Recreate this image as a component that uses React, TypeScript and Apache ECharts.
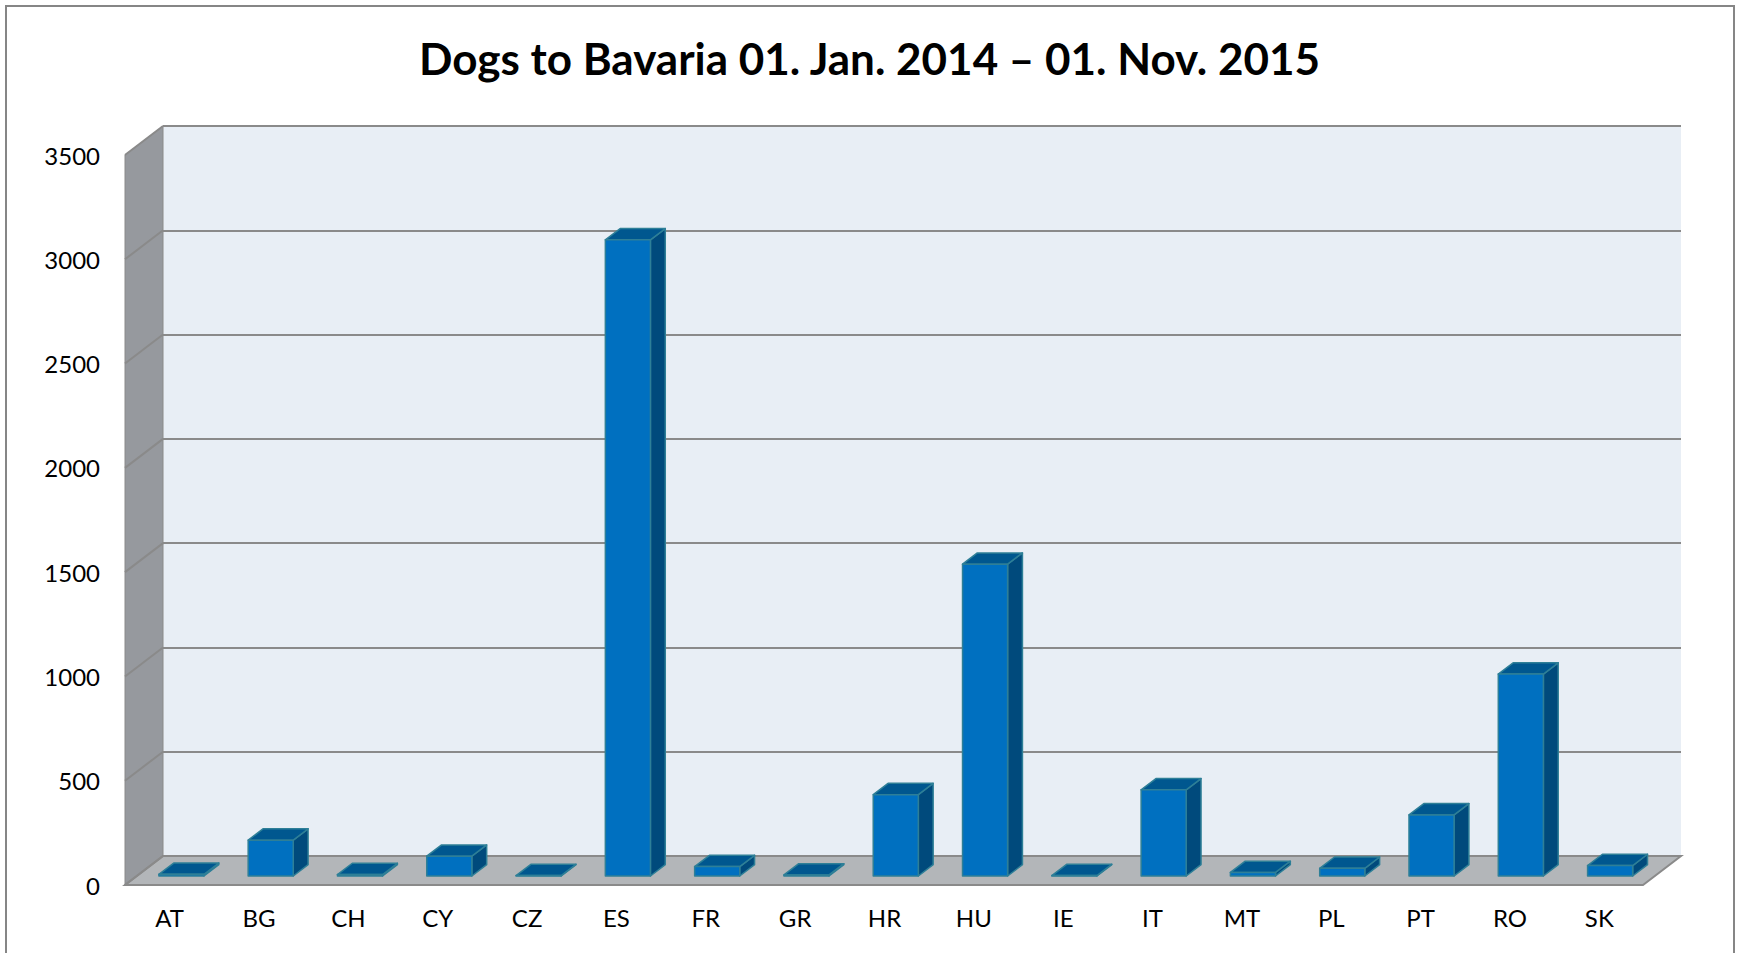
import React, { useEffect, useRef } from "react";
import * as echarts from "echarts";

const categories = ["AT", "BG", "CH", "CY", "CZ", "ES", "FR", "GR", "HR", "HU", "IE", "IT", "MT", "PL", "PT", "RO", "SK"];
const dogCounts = [8, 172, 7, 95, 2, 3050, 45, 5, 390, 1495, 2, 413, 17, 37, 293, 968, 50];
const yTicks = [0, 500, 1000, 1500, 2000, 2500, 3000, 3500];
const titleText = "Dogs to Bavaria 01. Jan. 2014 – 01. Nov. 2015";

const W = 1739;
const H = 953;
// depth vector (from back wall plane to front plane), layout constant
const DEPTH_X = -38;
const DEPTH_Y = 29;
const BAR_FRONT = 0.69;
const BAR_BACK = 0.3;
const BAR_WIDTH_FRAC = 0.505;
const FONT = "Lato, 'Noto Sans', sans-serif";

export default function App() {
  const ref = useRef<HTMLDivElement>(null);

  useEffect(() => {
    if (!ref.current) return;
    const chart = echarts.init(ref.current, null, { renderer: "svg" });

    const wallsRender = (params: any, api: any) => {
      const cs = params.coordSys;
      const x = cs.x, y = cs.y, w = cs.width, h = cs.height;
      const children: any[] = [];
      children.push({
        type: "polygon",
        shape: { points: [[x, y], [x, y + h], [x + DEPTH_X, y + h + DEPTH_Y], [x + DEPTH_X, y + DEPTH_Y]] },
        style: { fill: "#96999E", stroke: "#8A8A8A", lineWidth: 1 },
      });
      children.push({
        type: "polygon",
        shape: {
          points: [[x, y + h], [x + w, y + h], [x + w + DEPTH_X, y + h + DEPTH_Y], [x + DEPTH_X, y + h + DEPTH_Y]],
        },
        style: { fill: "#B3B6B9", stroke: "#8A8A8A", lineWidth: 2 },
      });
      yTicks.forEach((v) => {
        const p = api.coord([0, v]);
        children.push({
          type: "line",
          shape: { x1: x, y1: p[1], x2: x + DEPTH_X, y2: p[1] + DEPTH_Y },
          style: { stroke: "#8A8A8A", lineWidth: 2 },
        });
      });
      return { type: "group", children };
    };

    const barRender = (params: any, api: any) => {
      const i = api.value(0);
      const v = api.value(1);
      const base = api.coord([i, 0]);
      const top = api.coord([i, v]);
      const band = api.size([1, 0])[0];
      const bw = band * BAR_WIDTH_FRAC;
      const fx = base[0] + DEPTH_X * BAR_FRONT;
      const fy0 = base[1] + DEPTH_Y * BAR_FRONT;
      const fy1 = top[1] + DEPTH_Y * BAR_FRONT;
      const ox = DEPTH_X * (BAR_BACK - BAR_FRONT);
      const oy = DEPTH_Y * (BAR_BACK - BAR_FRONT);
      const l = fx - bw / 2;
      const r = fx + bw / 2;
      const stroke = { stroke: "#2E7F97", lineWidth: 1.5, lineJoin: "round" };
      return {
        type: "group",
        children: [
          {
            type: "polygon",
            shape: { points: [[r, fy1], [r, fy0], [r + ox, fy0 + oy], [r + ox, fy1 + oy]] },
            style: { fill: "#004A7C", ...stroke },
          },
          {
            type: "polygon",
            shape: { points: [[l, fy1], [r, fy1], [r + ox, fy1 + oy], [l + ox, fy1 + oy]] },
            style: { fill: "#00578F", ...stroke },
          },
          {
            type: "rect",
            shape: { x: l, y: fy1, width: bw, height: Math.max(fy0 - fy1, 0) },
            style: { fill: "#0070C0", ...stroke },
          },
        ],
      };
    };

    chart.setOption({
      animation: false,
      backgroundColor: "#ffffff",
      title: {
        text: titleText,
        left: "center",
        top: 31,
        textStyle: { fontFamily: FONT, fontWeight: "bold", fontSize: 44, color: "#000000" },
      },
      graphic: [
        {
          type: "rect",
          shape: { x: 6, y: 6, width: 1728, height: 1000 },
          style: { fill: "none", stroke: "#868686", lineWidth: 2 },
          silent: true,
        },
      ],
      grid: [
        { left: 163, top: 126, width: 1518, height: 730, show: true, backgroundColor: "#E8EEF5", borderWidth: 0 },
        { left: 125, top: 155, width: 1519, height: 730, show: false },
      ],
      xAxis: [
        {
          gridIndex: 0,
          type: "category",
          data: categories,
          axisLine: { show: false },
          axisTick: { show: false },
          axisLabel: { show: false },
          splitLine: { show: false },
        },
        {
          gridIndex: 1,
          type: "category",
          data: categories,
          axisLine: { show: false },
          axisTick: { show: false },
          axisLabel: { fontFamily: FONT, fontSize: 24, color: "#000000", margin: 20 },
          splitLine: { show: false },
        },
      ],
      yAxis: [
        {
          gridIndex: 0,
          type: "value",
          min: 0,
          max: 3500,
          interval: 500,
          axisLine: { show: false },
          axisTick: { show: false },
          axisLabel: { show: false },
          splitLine: { show: true, lineStyle: { color: "#8A8A8A", width: 2 } },
        },
        {
          gridIndex: 1,
          type: "value",
          min: 0,
          max: 3500,
          interval: 500,
          axisLine: { show: false },
          axisTick: { show: false },
          axisLabel: {
            fontFamily: FONT,
            fontSize: 24,
            color: "#000000",
            margin: 25,
            formatter: (v: number) => String(v),
          },
          splitLine: { show: false },
        },
      ],
      series: [
        {
          type: "custom",
          xAxisIndex: 0,
          yAxisIndex: 0,
          renderItem: wallsRender,
          data: [[0, 0]],
          z: 1,
          silent: true,
        },
        {
          type: "custom",
          xAxisIndex: 0,
          yAxisIndex: 0,
          renderItem: barRender,
          encode: { x: 0, y: 1 },
          data: categories.map((c, i) => [i, dogCounts[i]]),
          z: 3,
        },
      ],
    });

    return () => chart.dispose();
  }, []);

  return <div ref={ref} style={{ position: "absolute", left: 0, top: 0, width: W, height: H }} />;
}
